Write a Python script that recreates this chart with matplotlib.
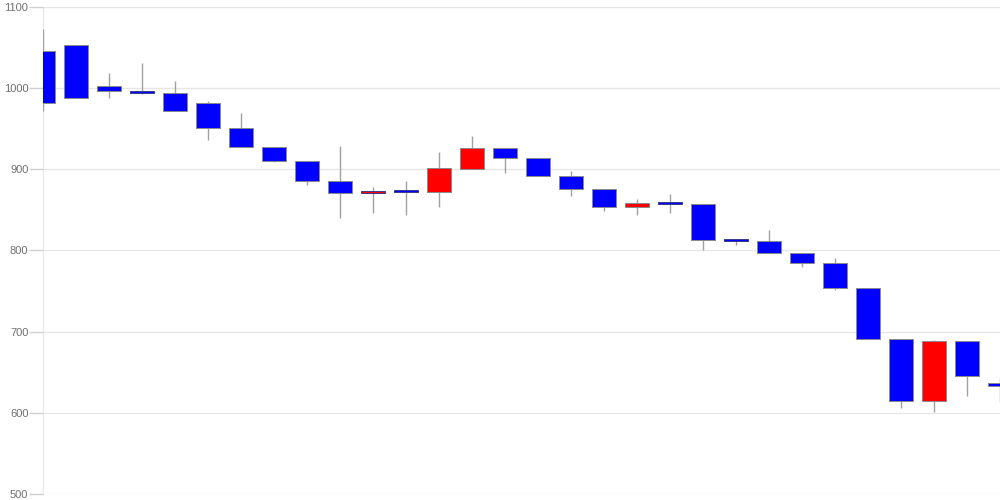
import matplotlib.pyplot as plt
from matplotlib.patches import Rectangle
import numpy as np

# OHLC values
opens  = [1045, 1053, 1002, 996, 994, 981, 951, 927, 910, 885,
          870, 873, 872, 900, 926, 914, 891, 876, 853, 859,
          857, 813, 812, 797, 784, 754, 691, 614, 689, 637]
highs  = [1073, 1053, 1018, 1031, 1009, 984, 969, 927, 910, 929,
          878, 886, 921, 941, 926, 914, 898, 876, 863, 869,
          857, 813, 825, 797, 790, 754, 691, 690, 689, 643]
lows   = [971, 988, 988, 993, 972, 936, 927, 909, 881, 840,
          846, 843, 853, 900, 895, 891, 867, 849, 843, 846,
          801, 806, 797, 780, 751, 691, 606, 601, 621, 613]
closes = [981, 988, 996, 994, 972, 951, 927, 910, 885, 870,
          873, 872, 901, 926, 914, 891, 876, 853, 858, 857,
          813, 812, 797, 784, 754, 691, 614, 689, 645, 633]

yticks = [500, 600, 700, 800, 900, 1000, 1100]

fig = plt.figure(figsize=(10, 5), dpi=100)
ax = fig.add_axes([0.043, 0.012, 0.957, 0.9746])

width = 0.73
for i in range(len(opens)):
    o, h, l, c = opens[i], highs[i], lows[i], closes[i]
    ax.vlines(i, l, h, color="#a0a0a0", linewidth=1, zorder=2)
    color = "#ff0000" if c > o else "#0000ff"
    bottom = min(o, c)
    height = max(abs(c - o), 2.2)
    # thin bodies: keep the border from swallowing the fill
    edge = "#8a8a8a" if abs(c - o) > 3 else "#3a3a8a"
    ax.add_patch(Rectangle((i - width / 2, bottom), width, height,
                           facecolor=color, edgecolor=edge,
                           linewidth=0.7, zorder=3))

ax.set_xlim(0, 29)
ax.set_ylim(500, 1100)
ax.set_yticks(yticks)
ax.set_yticklabels([str(t) for t in yticks], fontsize=8, color="#707070",
                   family="Liberation Sans")
ax.set_xticks([])
ax.grid(axis="y", color="#e6e6e6", linewidth=1, zorder=0)
ax.tick_params(axis="y", length=10, width=1, color="#d0d0d0", pad=0.5)

for s in ["top", "right", "bottom"]:
    ax.spines[s].set_visible(False)
ax.spines["left"].set_color("#e6e6e6")
ax.spines["left"].set_zorder(0)

fig.savefig("out.png", dpi=100)
